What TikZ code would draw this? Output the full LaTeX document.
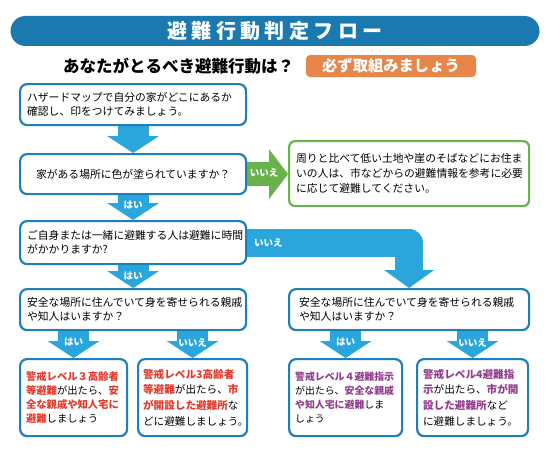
\documentclass[tikz,border=0pt]{standalone}
\usepackage{fontspec}
\setmainfont{Noto Sans CJK JP}
\usetikzlibrary{arrows.meta,backgrounds}
\definecolor{titleblue}{HTML}{1A7AB0}
\definecolor{boxblue}{HTML}{1E7FBA}
\definecolor{arrowblue}{HTML}{2AA6DC}
\definecolor{flowgreen}{HTML}{6AB24C}
\definecolor{badgeorange}{HTML}{E8864A}
\definecolor{warnred}{HTML}{E5392B}
\definecolor{warnpurple}{HTML}{913C8E}
\newcommand{\rd}[1]{{\bfseries\color{warnred}#1}}
\newcommand{\pu}[1]{{\bfseries\color{warnpurple}#1}}
\tikzset{
  flowbox/.style={draw=boxblue, line width=2.2pt, rounded corners=7pt, fill=white,
    anchor=north west, inner xsep=7pt, inner ysep=0pt, align=left, text=black,
    font=\fontsize{10.8}{14}\selectfont},
  greenbox/.style={flowbox, draw=flowgreen, rounded corners=6pt},
  blueflow/.style={draw=arrowblue, line width=31pt,
    -{Triangle[width=52pt,length=17pt,line width=0pt]}},
  bigflow/.style={draw=arrowblue, line width=28pt, line join=round,
    -{Triangle[width=50pt,length=18pt,line width=0pt]}},
  greenflow/.style={draw=flowgreen, line width=24pt,
    -{Triangle[width=50pt,length=19pt,line width=0pt]}},
  lbl/.style={text=white, inner sep=0pt, font=\fontsize{9.5}{10}\selectfont\bfseries}
}
\begin{document}
\begin{tikzpicture}[x=1pt,y=-1pt]
\useasboundingbox (0,0) rectangle (553,452);

% title
\node[fill=titleblue, rounded corners=15pt, minimum width=529pt, minimum height=30pt,
  inner sep=0pt, text=white, font=\fontsize{20}{22}\selectfont\bfseries] (title) at (275,31)
  {避\hspace{4.4pt}難\hspace{4.4pt}行\hspace{4.4pt}動\hspace{4.4pt}判\hspace{4.4pt}定\hspace{4.4pt}フ\hspace{4.4pt}ロ\hspace{4.4pt}ー};
\node[anchor=west, inner sep=0pt, font=\fontsize{16.5}{18}\selectfont\bfseries] (sub) at (63,66)
  {あなたがとるべき避難行動は？};
\node[fill=badgeorange, rounded corners=4pt, minimum width=170pt, minimum height=22pt,
  inner sep=0pt, text=white, font=\fontsize{15.3}{17}\selectfont\bfseries] (badge) at (391,66)
  {必ず取組みましょう};

% boxes
\node[flowbox, minimum width=226pt, text width=212pt, minimum height=41pt] (b1) at (19,83)
  {ハザードマップで自分の家がどこにあるか\\確認し、印をつけてみましょう。};
\node[flowbox, minimum width=226pt, text width=212pt, minimum height=40pt, align=center] (b2) at (19,153)
  {家がある場所に色が塗られていますか？};
\node[greenbox, minimum width=240pt, text width=226pt, minimum height=65pt,
  font=\fontsize{10.8}{15}\selectfont] (g1) at (288,140)
  {周りと比べて低い土地や崖のそばなどにお住ま\\いの人は、市などからの避難情報を参考に必要\\に応じて避難してください。};
\node[flowbox, minimum width=226pt, text width=212pt, minimum height=43pt] (b3) at (19,220)
  {ご自身または一緒に避難する人は避難に時間\\がかかりますか?};
\node[flowbox, minimum width=226pt, text width=212pt, minimum height=41pt] (b4l) at (19,288)
  {安全な場所に住んでいて身を寄せられる親戚\\や知人はいますか？};
\node[flowbox, minimum width=240pt, text width=220pt, inner xsep=10pt, minimum height=41pt] (b4r) at (288,288)
  {安全な場所に住んでいて身を寄せられる親戚\\や知人はいますか？};
\node[flowbox, minimum width=107pt, text width=95pt, inner xsep=6pt, minimum height=77pt,
  font=\fontsize{10.3}{14.3}\selectfont] (b5a) at (19,358)
  {\rd{警戒レベル３高齢者}\\\rd{等避難}が出たら、\rd{安}\\\rd{全な親戚や知人宅に}\\\rd{避難}しましょう};
\node[flowbox, minimum width=109pt, text width=99pt, inner xsep=5pt, minimum height=77pt,
  font=\fontsize{10.6}{15.6}\selectfont] (b5b) at (137,358)
  {\rd{警戒レベル3高齢者}\\\rd{等避難}が出たら、\rd{市}\\\rd{が開設した避難所}な\\どに避難しましょう。};
\node[flowbox, minimum width=113pt, text width=101pt, inner xsep=6pt, minimum height=77pt,
  font=\fontsize{9.9}{14.2}\selectfont] (b6a) at (288,358)
  {\pu{警戒レベル４避難指示}\\が出たら、\pu{安全な親戚}\\\pu{や知人宅に避難}しま\\しょう};
\node[flowbox, minimum width=111pt, text width=99pt, inner xsep=6pt, minimum height=77pt,
  font=\fontsize{10.6}{15.6}\selectfont] (b6b) at (416,358)
  {\pu{警戒レベル4避難指}\\\pu{示}が出たら、\pu{市が開}\\\pu{設した避難所}など\\に避難しましょう。};

% connectors
\begin{scope}[on background layer]
\fill[white] (0,0) rectangle (553,452);
\draw[blueflow] (b1.south) -- (b2.north);
\draw[blueflow] (b2.south) -- node[lbl, pos=0.4] {はい} (b3.north);
\draw[greenflow] (b2.east) -- (b2.east -| g1.west);
\node[lbl] (gl) at (264,173) {いいえ};
\draw[blueflow] (b3.south) -- node[lbl, pos=0.46] {はい} (b4l.north);
\draw[bigflow] (b3.east) -| node[lbl, pos=0.065] {いいえ} (b4r.north);
\draw[blueflow] (b5a.north |- b4l.south) -- node[lbl, pos=0.42] {はい} (b5a.north);
\draw[blueflow] (b5b.north |- b4l.south) -- node[lbl, pos=0.42] {いいえ} (b5b.north);
\draw[blueflow] (b6a.north |- b4r.south) -- node[lbl, pos=0.42] {はい} (b6a.north);
\draw[blueflow] (b6b.north |- b4r.south) -- node[lbl, pos=0.42] {いいえ} (b6b.north);
\end{scope}
\end{tikzpicture}
\end{document}
